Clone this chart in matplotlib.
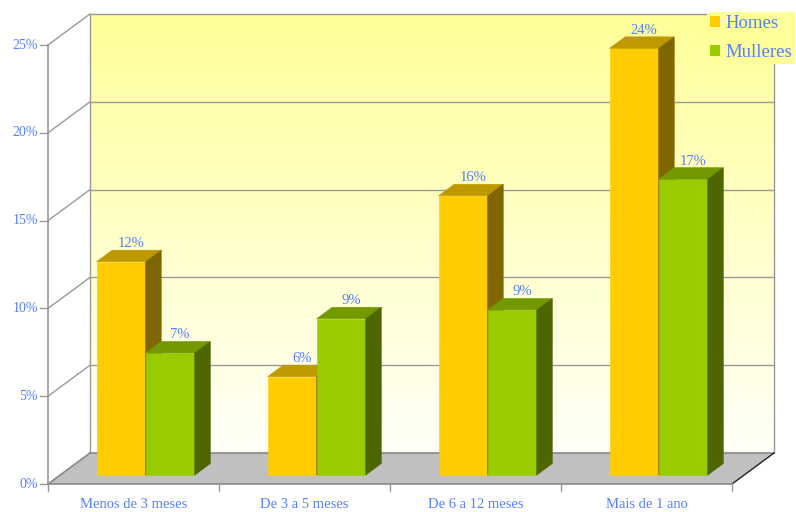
import numpy as np
import matplotlib
matplotlib.use('Agg')
import matplotlib.pyplot as plt
from matplotlib.patches import Polygon, Patch
from matplotlib.colors import LinearSegmentedColormap

categories = ['Menos de 3 meses', 'De 3 a 5 meses', 'De 6 a 12 meses', 'Mais de 1 ano']
series = ['Homes', 'Mulleres']
homes = [12.15, 5.6, 15.9, 24.3]
mulleres = [6.95, 8.9, 9.4, 16.85]
yticks = [0, 5, 10, 15, 20, 25]

front_cols = ['#FFCC00', '#99CC00']
top_cols = ['#BF9900', '#739900']
side_cols = ['#806600', '#4D6600']
txt_col = '#5580FF'
grid_col = '#999999'

plt.rcParams['font.family'] = ['Liberation Serif', 'DejaVu Serif']

fig = plt.figure(figsize=(7.96, 5.12), dpi=100)
W, H = 796, 512
# back wall of the 3d box
ax = fig.add_axes([90 / W, 59 / H, 684 / W, 439 / H])
ax.axis('off')

px_cat = 684 / 4
px_pct = 439 / 25
DX = -42 / px_cat   # full depth shift in data units
DY = -31 / px_pct


def proj(x, y, f):
    return (x + f * DX, y + f * DY)


# walls with gradient
grad = np.linspace(0, 1, 256).reshape(-1, 1)
cmap = LinearSegmentedColormap.from_list('wall', ['#FFFFFF', '#FFFF99'])
img = ax.imshow(grad, cmap=cmap, aspect='auto', origin='lower',
                extent=(DX, 4, DY, 25), zorder=0)
wall = Polygon([proj(0, 0, 1), proj(0, 0, 0), proj(4, 0, 0), proj(4, 25, 0),
                proj(0, 25, 0), proj(0, 25, 1)], closed=True,
               transform=ax.transData, fc='none', ec='none')
ax.add_patch(wall)
img.set_clip_box(None)
img.set_clip_path(wall)
img.set_clip_on(True)
ax.set_xlim(0, 4)
ax.set_ylim(0, 25)

# grid lines on back and left wall
for v in yticks[1:]:
    ax.plot([0, 4], [v, v], color=grid_col, lw=1, zorder=1, clip_on=False)
    p0, p1 = proj(0, v, 0), proj(0, v, 1)
    ax.plot([p0[0], p1[0]], [p0[1], p1[1]], color=grid_col, lw=1, zorder=1, clip_on=False)
ax.plot([0, 0], [0, 25], color=grid_col, lw=1, zorder=1, clip_on=False)
ax.plot([4, 4], [0, 25], color=grid_col, lw=1, zorder=1, clip_on=False)

# floor
floor = Polygon([proj(0, 0, 0), proj(4, 0, 0), proj(4, 0, 1), proj(0, 0, 1)],
                closed=True, fc='#C0C0C0', ec='none', zorder=1.5, clip_on=False)
ax.add_patch(floor)
ax.plot([0, 4], [0, 0], color='#888888', lw=1.2, zorder=1.6, clip_on=False)
p0, p1 = proj(0, 0, 0), proj(0, 0, 1)
ax.plot([p0[0], p1[0]], [p0[1], p1[1]], color='#888888', lw=1.2, zorder=1.6, clip_on=False)
p0, p1 = proj(4, 0, 0), proj(4, 0, 1)
ax.plot([p0[0], p1[0]], [p0[1], p1[1]], color='#222222', lw=1, zorder=1.6, clip_on=False)

# front axes
p0, p1 = proj(0, 0, 1), proj(0, 25, 1)
ax.plot([p0[0], p1[0]], [p0[1], p1[1]], color=grid_col, lw=1.2, zorder=5, clip_on=False)
p1 = proj(4, 0, 1)
ax.plot([p0[0], p1[0]], [p0[1], p1[1]], color='#888888', lw=1.2, zorder=5, clip_on=False)
tl_x = 8 / px_cat
for v in yticks:
    p = proj(0, v, 1)
    ax.plot([p[0] - tl_x, p[0]], [p[1], p[1]], color=grid_col, lw=1, zorder=5, clip_on=False)
    ax.annotate(f'{v}%', xy=p, xytext=(-10, 0), textcoords='offset pixels',
                ha='right', va='center', color=txt_col, fontsize=10,
                annotation_clip=False)
tl_y = 7 / px_pct
for i in range(len(categories) + 1):
    p = proj(i, 0, 1)
    ax.plot([p[0], p[0]], [p[1], p[1] - tl_y], color=grid_col, lw=1, zorder=5, clip_on=False)
for i, c in enumerate(categories):
    p = proj(i + 0.5, 0, 1)
    ax.annotate(c, xy=p, xytext=(0, -14), textcoords='offset pixels',
                ha='center', va='top', color=txt_col, fontsize=10.5,
                annotation_clip=False)

# bars
bw = 0.287
f_front, f_back = 0.71, 0.34
for i in range(len(categories)):
    for s, vals in enumerate([homes, mulleres]):
        h = vals[i]
        x0 = i + 0.5 - bw + s * bw
        x1 = x0 + bw
        kw = dict(closed=True, zorder=3, clip_on=False, lw=0.4)
        front = [proj(x0, 0, f_front), proj(x1, 0, f_front), proj(x1, h, f_front), proj(x0, h, f_front)]
        top = [proj(x0, h, f_front), proj(x1, h, f_front), proj(x1, h, f_back), proj(x0, h, f_back)]
        side = [proj(x1, 0, f_front), proj(x1, 0, f_back), proj(x1, h, f_back), proj(x1, h, f_front)]
        ax.add_patch(Polygon(front, fc=front_cols[s], ec=front_cols[s], **kw))
        ax.add_patch(Polygon(top, fc=top_cols[s], ec=top_cols[s], **kw))
        ax.add_patch(Polygon(side, fc=side_cols[s], ec=side_cols[s], **kw))
        lx, _ = proj((x0 + x1) / 2, h, (f_front + f_back) / 2)
        _, ly = proj(x0, h, f_back)
        ax.annotate(f'{round(h)}%', xy=(lx, ly), xytext=(2, 0), textcoords='offset pixels',
                    ha='center', va='bottom', color=txt_col, fontsize=10.5, zorder=4,
                    annotation_clip=False)

handles = [Patch(fc=front_cols[s], ec='none', label=series[s]) for s in range(2)]
leg = fig.legend(handles=handles, loc='upper left', bbox_to_anchor=(707 / W, 1 - 12 / H),
                 fontsize=13.5, frameon=True, facecolor='#FFFF99', edgecolor='none',
                 framealpha=1, fancybox=False, handlelength=0.55, handleheight=0.55,
                 handletextpad=0.3, labelspacing=0.65, borderpad=0.15, borderaxespad=0)
for t in leg.get_texts():
    t.set_color(txt_col)
leg.set_zorder(10)

fig.savefig('out.png', dpi=100)
